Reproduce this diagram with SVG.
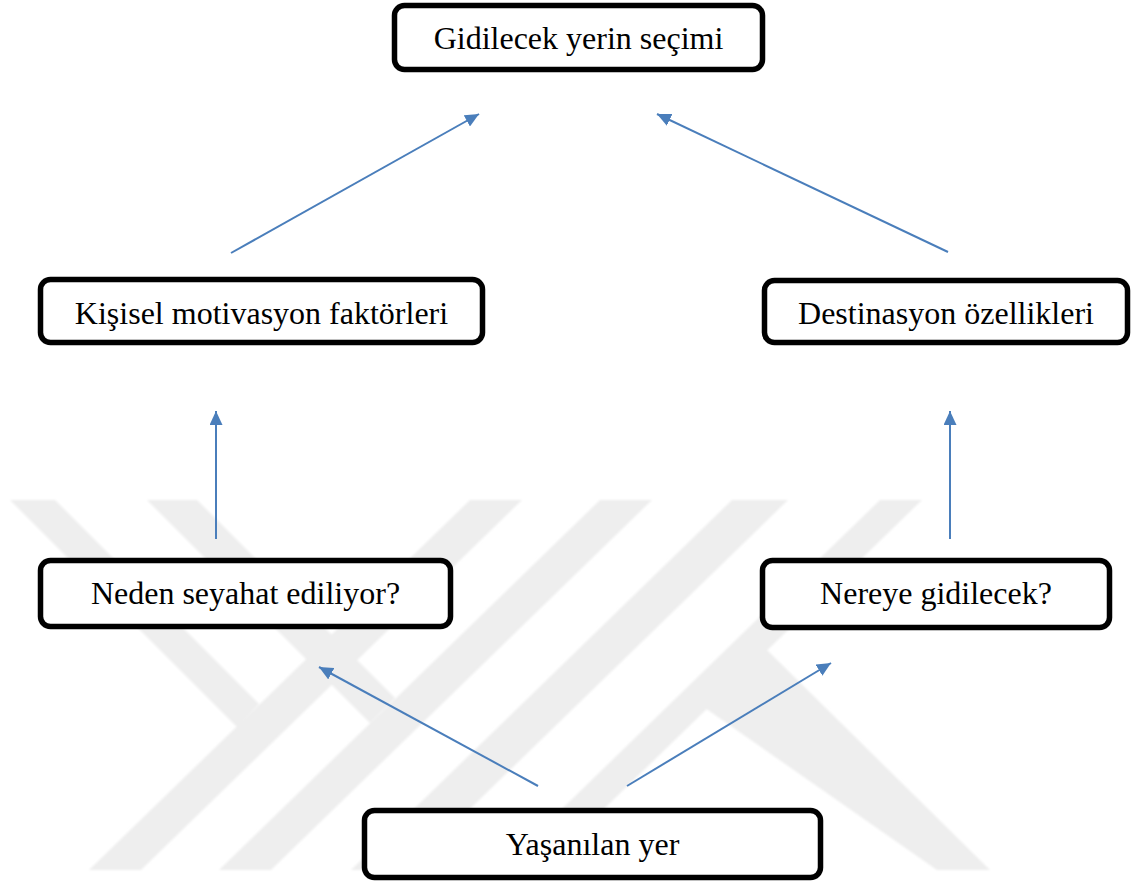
<svg xmlns="http://www.w3.org/2000/svg" width="1133" height="884" viewBox="0 0 1133 884">
  <style>
    .box { fill: #ffffff; stroke: #000000; stroke-width: 5.5; }
    .lbl { font-family: "Liberation Serif", "Times New Roman", serif; font-size: 32px; fill: #000000; text-anchor: middle; }
    .link { stroke: #4a7ebb; stroke-width: 2; fill: none; marker-end: url(#tip); }
    .mark { fill: #eeeeee; }
  </style>
  <defs>
    <marker id="tip" markerUnits="userSpaceOnUse" markerWidth="14" markerHeight="13" refX="14" refY="6.5" orient="auto">
      <path d="M0,0 L14,6.5 L0,13 z" fill="#4a7ebb"/>
    </marker>
    <filter id="soft" x="-5%" y="-5%" width="110%" height="110%">
      <feGaussianBlur stdDeviation="1"/>
    </filter>
  </defs>
  <rect width="1133" height="884" fill="#ffffff"/>

  <!-- background emblem of slanted bands -->
  <g id="emblem" filter="url(#soft)">
    <polygon class="mark" points="470,500 522,500 141,870 89,870"/>
    <polygon class="mark" points="600,500 652,500 271,870 219,870"/>
    <polygon class="mark" points="732,500 788,500 407,870 351,870"/>
    <polygon class="mark" points="880,500 922,500 541,870 499,870"/>
    <polygon class="mark" points="10,500 55,500 259,704 237,727"/>
    <polygon class="mark" points="147,500 197,500 395,698 370,723"/>
    <polygon class="mark" points="767,650 990,870 937,870 705,708"/>
  </g>

  <!-- connectors -->
  <g id="connectors">
    <line class="link" x1="231" y1="253" x2="479" y2="114"/>
    <line class="link" x1="948" y1="252" x2="657" y2="114"/>
    <line class="link" x1="216" y1="539" x2="216" y2="411"/>
    <line class="link" x1="950" y1="539" x2="950" y2="411"/>
    <line class="link" x1="538" y1="786" x2="319" y2="667"/>
    <line class="link" x1="627" y1="786" x2="831" y2="663"/>
  </g>

  <g id="secim">
    <rect class="box" x="394.5" y="5.5" width="368" height="64" rx="10"/>
    <text class="lbl" x="578.5" y="49">Gidilecek yerin seçimi</text>
  </g>
  <g id="motivasyon">
    <rect class="box" x="40.5" y="279.5" width="442" height="63" rx="10"/>
    <text class="lbl" x="261.5" y="324">Kişisel motivasyon faktörleri</text>
  </g>
  <g id="destinasyon">
    <rect class="box" x="764.5" y="280.5" width="363" height="62" rx="10"/>
    <text class="lbl" x="946" y="324">Destinasyon özellikleri</text>
  </g>
  <g id="neden">
    <rect class="box" x="40.5" y="560.5" width="410" height="66" rx="10"/>
    <text class="lbl" x="245.5" y="604">Neden seyahat ediliyor?</text>
  </g>
  <g id="nereye">
    <rect class="box" x="762.5" y="560.5" width="347" height="67" rx="10"/>
    <text class="lbl" x="936" y="604">Nereye gidilecek?</text>
  </g>
  <g id="yasanilan">
    <rect class="box" x="364.5" y="810.5" width="456" height="67" rx="10"/>
    <text class="lbl" x="592.5" y="855">Yaşanılan yer</text>
  </g>
</svg>
